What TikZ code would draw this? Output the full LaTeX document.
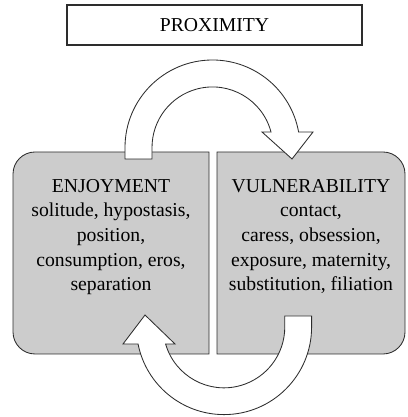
\documentclass[tikz,border=0pt]{standalone}
\definecolor{panelGray}{RGB}{204,204,204}
\definecolor{edgeGray}{RGB}{45,45,45}
\usepackage{fontspec}
\setmainfont{Liberation Serif}
\usepackage{tikz}
\usetikzlibrary{calc}

\begin{document}
\begin{tikzpicture}[
    panel/.style={fill=panelGray,draw=edgeGray,line width=0.6pt},
    bigarrow/.style={fill=white,draw=edgeGray,line width=0.6pt},
    txt/.style={font=\fontsize{14}{17.5}\selectfont,align=center,inner sep=0pt}]
  \useasboundingbox (0,0) rectangle (10.175,10.425);
  \node[txt,draw=edgeGray,line width=0.8pt,minimum width=7.375cm,minimum height=1cm] (prox) at (5.3625,9.8) {PROXIMITY};
  \draw[panel] (5.225,6.625) -- (0.875,6.625) arc[start angle=90,end angle=180,radius=0.55] -- (0.325,2.125) arc[start angle=180,end angle=270,radius=0.55] -- (5.225,1.575) -- cycle;
  \draw[panel] (5.425,6.625) -- (9.575,6.625) arc[start angle=90,end angle=0,radius=0.55] -- (10.125,2.125) arc[start angle=0,end angle=-90,radius=0.55] -- (5.425,1.575) -- cycle;
  \node[txt,anchor=north] (enjoy) at (2.775,5.95) {ENJOYMENT\\solitude, hypostasis,\\position,\\consumption, eros,\\separation};
  \node[txt,anchor=north] (vuln) at (7.775,5.95) {VULNERABILITY\\contact,\\caress, obsession,\\exposure, maternity,\\substitution, filiation};
  \draw[bigarrow] (3.125,6.45) -- (3.125,6.7375) arc[start angle=180,end angle=10.2,radius=2.1875] -- (7.825,7.125) -- (7.3,6.45) -- (6.55,7.125) -- (6.775,7.125) arc[start angle=14.8,end angle=180,radius=1.5125] -- (3.8,6.45) -- cycle;
  \draw[bigarrow] (7.79,2.525) -- (7.79,2.25) arc[start angle=0,end angle=-168.8,radius=2.19] -- (3.075,1.825) -- (3.625,2.55) -- (4.375,1.825) -- (4.14,1.825) arc[start angle=196.2,end angle=360,radius=1.52] -- (7.12,2.525) -- cycle;
\end{tikzpicture}
\end{document}
